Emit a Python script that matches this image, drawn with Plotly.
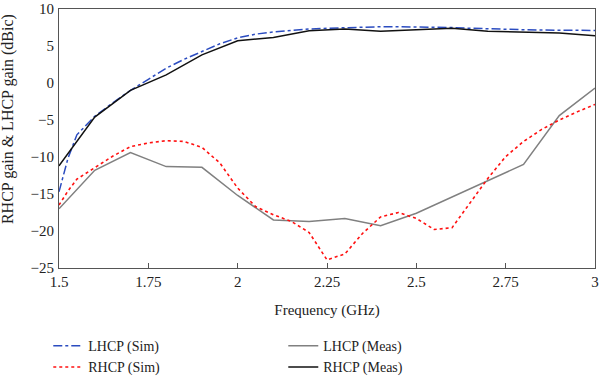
import plotly.graph_objects as go

# Simulated curves (0.05 GHz step)
freq_sim = [1.5, 1.525, 1.55, 1.575, 1.6, 1.65, 1.7, 1.75, 1.8, 1.85, 1.9, 1.95, 2.0, 2.05, 2.1,
            2.15, 2.2, 2.25, 2.3, 2.35, 2.4, 2.45, 2.5, 2.55, 2.6, 2.65, 2.7, 2.75, 2.8,
            2.85, 2.9, 2.95, 3.0]
lhcp_sim = [-14.7, -10.2, -7.0, -5.7, -4.5, -2.7, -1.0, 0.5, 2.0, 3.2, 4.3, 5.3, 6.1, 6.6, 6.9,
            7.15, 7.3, 7.4, 7.5, 7.55, 7.6, 7.6, 7.6, 7.55, 7.5, 7.4, 7.3, 7.25, 7.2,
            7.15, 7.15, 7.1, 7.1]
rhcp_sim = [-16.5, -14.6, -13.0, -12.2, -11.5, -9.9, -8.6, -8.1, -7.8, -7.9, -8.7, -10.8, -14.2, -16.7, -17.8,
            -18.7, -20.2, -23.9, -23.1, -20.3, -18.1, -17.5, -18.3, -19.8, -19.55, -16.3, -12.9, -9.95, -7.9,
            -6.3, -5.0, -3.9, -2.9]

# Measured curves (0.1 GHz step)
freq_meas = [1.5, 1.6, 1.7, 1.8, 1.9, 2.0, 2.1, 2.2, 2.3, 2.4, 2.5, 2.6, 2.7, 2.8, 2.9, 3.0]
lhcp_meas = [-17.0, -11.8, -9.4, -11.3, -11.4, -15.2, -18.5, -18.7, -18.3, -19.3, -17.6, -15.4, -13.1, -11.0, -4.4, -0.7]
rhcp_meas = [-11.2, -4.6, -1.0, 1.1, 3.8, 5.7, 6.15, 7.05, 7.3, 7.0, 7.2, 7.4, 7.0, 6.9, 6.75, 6.4]

x_ticks = [1.5, 1.75, 2, 2.25, 2.5, 2.75, 3]
x_tick_labels = ["1.5", "1.75", "2", "2.25", "2.5", "2.75", "3"]
y_ticks = [10, 5, 0, -5, -10, -15, -20, -25]

font = "Liberation Serif"

fig = go.Figure()
fig.add_trace(go.Scatter(x=freq_sim, y=lhcp_sim, mode="lines", name="LHCP (Sim)",
                         line=dict(color="#2b4cc0", width=1.5, dash="dashdot")))
fig.add_trace(go.Scatter(x=freq_meas, y=lhcp_meas, mode="lines", name="LHCP (Meas)",
                         line=dict(color="#808080", width=1.5)))
fig.add_trace(go.Scatter(x=freq_sim, y=rhcp_sim, mode="lines", name="RHCP (Sim)",
                         line=dict(color="#ff1010", width=1.6, dash="dot")))
fig.add_trace(go.Scatter(x=freq_meas, y=rhcp_meas, mode="lines", name="RHCP (Meas)",
                         line=dict(color="#111111", width=1.5)))

fig.update_layout(
    width=600, height=376,
    margin=dict(l=59, r=5, t=9, b=108, autoexpand=False),
    paper_bgcolor="white", plot_bgcolor="white",
    font=dict(family=font, size=15, color="#222"),
    showlegend=True,
    legend=dict(orientation="h", x=-0.02, y=-0.24, xanchor="left", yanchor="top",
                entrywidth=190, entrywidthmode="pixels",
                font=dict(family=font, size=14, color="#222"),
                tracegroupgap=0, itemwidth=30, bgcolor="rgba(0,0,0,0)"),
    annotations=[dict(text="RHCP gain & LHCP gain (dBic)", textangle=-90,
                      xref="paper", yref="paper", x=0, y=0.575, xshift=-51,
                      xanchor="center", yanchor="middle", showarrow=False,
                      font=dict(family=font, size=16, color="#222"))],
)
fig.update_xaxes(range=[1.5, 3], tickvals=x_ticks, ticktext=x_tick_labels, automargin=False,
                 showgrid=False, zeroline=False, showline=True, linecolor="#555", linewidth=1,
                 mirror=True, ticks="inside", ticklen=5, tickcolor="#555",
                 title=dict(text="Frequency (GHz)", standoff=15,
                            font=dict(family=font, size=15)))
fig.update_yaxes(range=[-25, 10], tickvals=y_ticks, automargin=False,
                 showgrid=False, zeroline=False, showline=True, linecolor="#555", linewidth=1,
                 mirror=True, ticks="", ticklabelstandoff=1)

fig.write_html("out.html", config={"displayModeBar": False},
               post_script="document.body.style.margin='0px';document.body.style.padding='0px';")
